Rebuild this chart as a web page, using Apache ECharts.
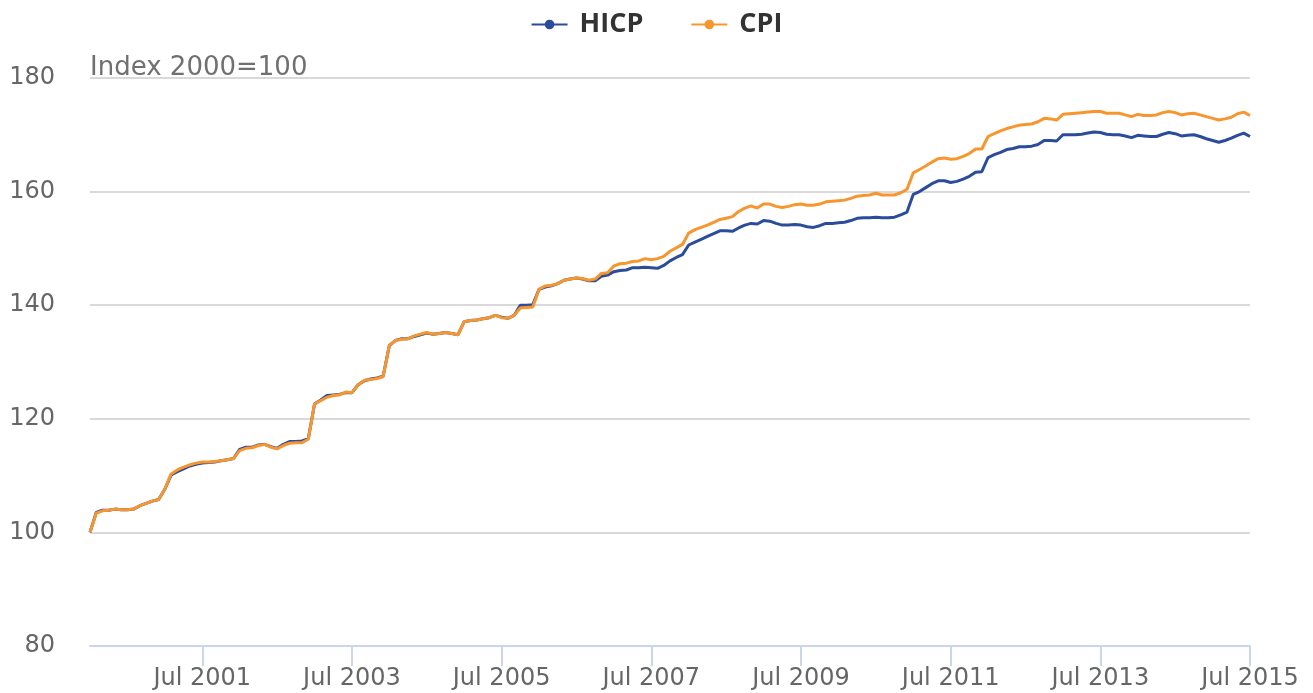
<!DOCTYPE html>
<html>
<head>
<meta charset="utf-8">
<script src="https://cdn.jsdelivr.net/npm/echarts@6/dist/echarts.min.js"></script>
<style>
  html, body { margin: 0; padding: 0; background: #fff; }
  #main { width: 1313px; height: 693px; }
</style>
</head>
<body>
<div id="main"></div>
<script>
// monthly, Jan 2000 .. Jul 2015
var monthNames = ['Jan', 'Feb', 'Mar', 'Apr', 'May', 'Jun', 'Jul', 'Aug', 'Sep', 'Oct', 'Nov', 'Dec'];
var startYear = 2000;
var monthCount = 187;

var hicp = [
  100, 103.5, 103.9, 103.9, 104.1, 104.0, 104.0, 104.1, 104.7, 105.1, 105.5, 105.8,
  107.6, 110.1, 110.7, 111.2, 111.7, 112.0, 112.2, 112.3, 112.4, 112.6, 112.8, 113.0,
  114.6, 115.0, 115.0, 115.4, 115.5, 115.1, 114.8, 115.5, 116.0, 116.0, 116.1, 116.5,
  122.6, 123.3, 124.1, 124.2, 124.3, 124.6, 124.6, 126.0, 126.7, 127.0, 127.2, 127.5,
  132.9, 133.8, 134.1, 134.1, 134.5, 134.8, 135.1, 134.9, 135.0, 135.2, 135.0, 134.8,
  137.1, 137.3, 137.4, 137.6, 137.8, 138.2, 137.9, 137.7, 138.2, 140.0, 140.0, 140.1,
  142.8, 143.2, 143.4, 143.8, 144.4, 144.6, 144.8, 144.6, 144.3, 144.3, 145.1, 145.3,
  145.9, 146.1, 146.2, 146.6, 146.6, 146.7, 146.6, 146.5, 147.0, 147.8, 148.4, 148.9,
  150.6, 151.1, 151.6, 152.1, 152.6, 153.1, 153.1, 153.0, 153.6, 154.1, 154.4, 154.3,
  154.9, 154.8, 154.4, 154.1, 154.1, 154.2, 154.1, 153.8, 153.7, 154.0, 154.4, 154.4,
  154.5, 154.6, 154.9, 155.3, 155.4, 155.4, 155.5, 155.4, 155.4, 155.5, 155.9, 156.4,
  159.5, 160.0, 160.7, 161.4, 161.9, 161.9, 161.6, 161.8, 162.2, 162.7, 163.4, 163.5,
  166.0, 166.5, 166.9, 167.4, 167.6, 167.9, 167.9, 168.0, 168.3, 169.0, 169.0, 168.9,
  170.0, 170.0, 170.0, 170.1, 170.3, 170.5, 170.4, 170.1, 170.0, 170.0, 169.8, 169.5,
  169.9, 169.8, 169.7, 169.7, 170.1, 170.4, 170.2, 169.8, 169.9, 170.0, 169.7, 169.3,
  169.0, 168.7, 169.0, 169.4, 169.9, 170.3, 169.7
];

var cpi = [
  100, 103.4, 103.8, 103.9, 104.1, 104.0, 104.0, 104.1, 104.7, 105.1, 105.5, 105.8,
  107.6, 110.3, 111.0, 111.5, 111.9, 112.2, 112.4, 112.4, 112.5, 112.6, 112.8, 113.0,
  114.4, 114.8, 114.9, 115.3, 115.5, 115.0, 114.7, 115.3, 115.7, 115.8, 115.8, 116.4,
  122.6, 123.2, 123.8, 124.1, 124.2, 124.7, 124.6, 126.0, 126.8, 126.9, 127.1, 127.4,
  132.9, 133.8, 134.0, 134.1, 134.6, 134.9, 135.2, 134.9, 135.0, 135.2, 135.0, 134.8,
  137.1, 137.3, 137.4, 137.6, 137.8, 138.2, 137.8, 137.7, 138.2, 139.5, 139.6, 139.7,
  142.8, 143.4, 143.5, 143.8, 144.4, 144.6, 144.8, 144.7, 144.4, 144.6, 145.6, 145.7,
  146.9, 147.3, 147.4, 147.7, 147.8, 148.2, 148.0, 148.2, 148.6, 149.5, 150.1, 150.7,
  152.7, 153.3, 153.7, 154.1, 154.6, 155.1, 155.3, 155.6, 156.5, 157.1, 157.5, 157.1,
  157.8, 157.8, 157.4, 157.2, 157.4, 157.7, 157.8, 157.6, 157.6, 157.8, 158.2, 158.3,
  158.4, 158.5, 158.8, 159.2, 159.3, 159.4, 159.7, 159.4, 159.4, 159.4, 159.8, 160.4,
  163.3, 163.9, 164.5, 165.2, 165.8, 165.9, 165.7, 165.8, 166.2, 166.7, 167.5, 167.5,
  169.7, 170.2, 170.7, 171.1, 171.4, 171.7, 171.8, 171.9, 172.3, 172.9, 172.8, 172.6,
  173.6, 173.7, 173.8, 173.9, 174.0, 174.1, 174.1, 173.8, 173.8, 173.8, 173.5, 173.2,
  173.6, 173.4, 173.4, 173.5, 173.9, 174.1, 173.9, 173.5, 173.7, 173.8, 173.5, 173.2,
  172.9, 172.6, 172.8, 173.1, 173.7, 174.0, 173.4
];

var months = [];
for (var i = 0; i < monthCount; i++) {
  months.push(monthNames[i % 12] + ' ' + (startYear + Math.floor(i / 12)));
}

// labels every two years, on July
function isTick(index) {
  return index % 24 === 18;
}

var chart = echarts.init(document.getElementById('main'));

var option = {
  animation: false,
  title: {
    text: 'Index 2000=100',
    left: 85,
    top: 50,
    textStyle: {
      fontFamily: 'DejaVu Sans',
      fontSize: 26,
      fontWeight: 'normal',
      color: '#707070'
    }
  },
  legend: {
    top: 6,
    left: 'center',
    itemWidth: 36,
    itemHeight: 12,
    itemGap: 47,
    formatter: function (name) {
      return ' ' + name;
    },
    textStyle: {
      fontFamily: 'Open Sans',
      fontSize: 27,
      fontWeight: 'bold',
      color: '#333333'
    },
    data: ['HICP', 'CPI']
  },
  grid: {
    left: 90,
    right: 63,
    top: 78,
    bottom: 47,
    containLabel: false
  },
  xAxis: {
    type: 'category',
    boundaryGap: false,
    data: months,
    axisLine: { lineStyle: { color: '#ccd6eb', width: 2 } },
    axisTick: {
      interval: isTick,
      length: 20,
      lineStyle: { color: '#ccd6eb', width: 2 }
    },
    axisLabel: {
      interval: isTick,
      margin: 21,
      fontFamily: 'DejaVu Sans',
      fontSize: 24,
      color: '#666666'
    },
    splitLine: { show: false }
  },
  yAxis: {
    type: 'value',
    min: 80,
    max: 180,
    interval: 20,
    axisLine: { show: false },
    axisTick: { show: false },
    axisLabel: {
      margin: 35,
      fontFamily: 'DejaVu Sans',
      fontSize: 24,
      color: '#666666'
    },
    splitLine: { lineStyle: { color: '#d9d9d9', width: 2 } }
  },
  series: [
    {
      name: 'HICP',
      type: 'line',
      data: hicp,
      symbol: 'circle',
      symbolSize: 8,
      showSymbol: false,
      color: '#2b4c9b',
      lineStyle: { width: 3 }
    },
    {
      name: 'CPI',
      type: 'line',
      data: cpi,
      symbol: 'circle',
      symbolSize: 8,
      showSymbol: false,
      color: '#f7962e',
      lineStyle: { width: 3 }
    }
  ]
};

chart.setOption(option);
</script>
</body>
</html>
